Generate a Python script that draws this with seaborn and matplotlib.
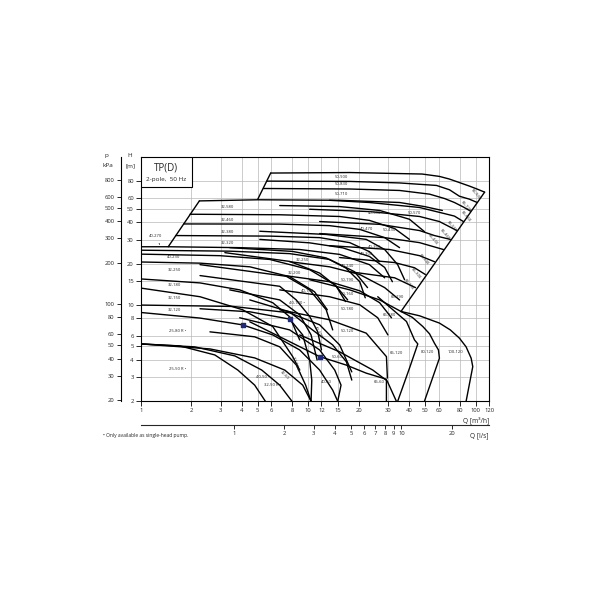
import numpy as np
import pandas as pd
import matplotlib
matplotlib.use("Agg")
import matplotlib.pyplot as plt
from matplotlib.ticker import NullLocator, FixedLocator, FixedFormatter
from matplotlib.patches import Rectangle
import seaborn as sns

# pump curves: Q in m3/h, H in m
q_env_a = [1.46, 2.24]
h_env_a = [26.6, 57.4]
q_env_b = [5.0, 5.97]
h_env_b = [59.1, 91.6]
q_max = [113, 35.8]
h_max = [66.5, 8.98]

q_50_900 = [5.97, 17.7, 47.9, 60.7, 69.7, 79.9, 91.7, 102, 113]
h_50_900 = [91.6, 92.4, 90.1, 86.6, 82.8, 78.1, 73.6, 70.0, 66.5]
q_50_830 = [5.67, 17.7, 35.1, 58.3, 69.7, 79.9, 91.7, 102]
h_50_830 = [80.0, 79.6, 77.6, 74.4, 69.2, 62.1, 59.1, 55.9]
q_50_710 = [5.4, 17.7, 35.1, 53.0, 65.0, 74.6, 84.4, 93.0]
h_50_710 = [70.7, 70.1, 68.4, 64.3, 59.8, 55.9, 51.8, 48.4]
q_32_580 = [2.24, 5.0, 15.4, 35.1, 49.4, 63.2]
h_32_580 = [57.4, 58.5, 58.0, 55.9, 52.2, 48.9]
q_32_460 = [1.97, 6.76, 15.4, 23.2, 32.8, 40.2]
h_32_460 = [45.9, 45.5, 44.2, 41.4, 36.1, 30.1]
q_32_380 = [1.81, 6.76, 13.4, 20.3, 28.6, 35.1]
h_32_380 = [39.0, 38.9, 37.9, 35.6, 31.0, 26.2]
q_32_320 = [1.62, 5.89, 11.7, 17.7, 23.2, 26.7]
h_32_320 = [32.1, 31.8, 31.0, 28.5, 24.5, 20.7]
q_40_580 = [6.76, 15.4, 26.7, 40.2, 49.4]
h_40_580 = [53.1, 52.2, 48.9, 42.2, 34.3]
q_65_550 = [13.4, 23.2, 46.2, 65.0, 74.6, 84.4]
h_65_550 = [58.0, 55.9, 51.4, 46.4, 44.5, 40.6]
q_65_460 = [10.2, 23.2, 46.2, 60.7, 77.2]
h_65_460 = [49.9, 48.0, 44.2, 40.6, 34.9]
q_65_430 = [11.7, 26.7, 46.2, 56.7, 70.5]
h_65_430 = [40.6, 38.75, 34.9, 32.1, 30.1]
q_65_340 = [11.7, 28.6, 46.2, 64.1]
h_65_340 = [33.2, 31.0, 28.5, 25.4]
q_65_300 = [13.4, 30.6, 46.2, 56.7]
h_65_300 = [27.1, 25.4, 22.9, 20.7]
q_65_250 = [15.4, 32.8, 43.1, 50.0]
h_65_250 = [22.2, 20.4, 18.7, 16.7]
q_65_190 = [17.7, 32.8, 43.7]
h_65_190 = [17.5, 15.8, 13.4]
q_65_180 = [10.2, 17.7, 26.7, 35.8]
h_65_180 = [15.3, 12.9, 10.9, 8.98]
q_40_270 = [1.0, 1.46, 3.90, 8.89, 15.4, 23.2, 28.6]
h_40_270 = [26.6, 26.6, 26.2, 25.4, 23.4, 19.7, 15.8]
q_40_250 = [1.0, 3.40, 7.75, 13.4, 18.9, 22.6]
h_40_250 = [25.1, 24.7, 23.7, 21.5, 17.5, 13.4]
q_40_230 = [1.0, 2.97, 5.89, 10.2, 14.4, 17.2]
h_40_230 = [23.5, 22.9, 21.5, 18.1, 14.1, 10.9]
q_32_250 = [1.0, 2.26, 4.48, 7.75, 10.9, 13.0]
h_32_250 = [20.6, 20.2, 19.0, 16.1, 12.5, 9.24]
q_32_180 = [1.0, 2.26, 3.90, 6.14, 7.75, 8.89]
h_32_180 = [15.5, 14.5, 12.9, 10.4, 8.21, 5.57]
q_32_150 = [1.0, 2.26, 4.06, 6.14, 8.08, 8.89]
h_32_150 = [13.3, 11.5, 9.24, 6.98, 4.21, 3.36]
q_32_120 = [1.0, 3.55, 7.75, 11.7, 15.4, 18.2]
h_32_120 = [10.0, 9.77, 8.78, 7.18, 5.12, 3.26]
q_25_80 = [1.0, 2.26, 4.06, 6.14, 8.89, 11.7, 14.0, 15.0]
h_25_80 = [8.83, 8.04, 7.17, 6.06, 4.71, 3.36, 2.40, 1.99]
q_25_50 = [1.0, 1.71, 2.77, 3.80, 4.79, 5.55]
h_25_50 = [5.21, 5.04, 4.33, 3.36, 2.61, 1.99]
q_32_50 = [1.0, 2.10, 3.65, 5.28, 6.76, 8.0]
h_32_50 = [5.21, 4.96, 4.26, 3.36, 2.61, 1.99]
q_40_50 = [1.0, 2.59, 4.79, 7.24, 9.27, 10.4]
h_40_50 = [5.21, 4.79, 4.12, 3.36, 2.61, 1.99]
q_32_60 = [2.59, 4.79, 6.76, 8.5, 9.65, 10.4]
h_32_60 = [6.38, 5.87, 4.96, 3.65, 2.61, 1.99]
q_32_80 = [2.26, 4.48, 7.75, 9.27, 10.2, 10.5, 10.4]
h_32_80 = [9.40, 8.93, 7.90, 6.06, 3.98, 2.84, 1.99]
q_40_60 = [3.90, 7.75, 11.7, 14.4, 15.7, 15.0]
h_40_60 = [8.08, 6.59, 4.71, 3.36, 2.61, 1.99]
q_40_100 = [4.48, 7.75, 10.6, 14.0, 16.9, 18.2]
h_40_100 = [10.9, 8.93, 6.59, 5.12, 3.86, 2.84]
q_50_60 = [4.48, 11.7, 16.9, 22.2, 29.3, 29.3]
h_50_60 = [7.55, 4.21, 3.65, 3.19, 2.88, 1.99]
q_65_60 = [8.89, 15.4, 24.3, 29.6, 33.6]
h_65_60 = [6.06, 4.56, 3.36, 2.80, 1.99]
q_50_120 = [6.76, 13.4, 22.2, 29.3, 29.7]
h_50_120 = [9.24, 7.81, 6.24, 4.21, 2.94]
q_65_120 = [26.0, 38.6, 43.1, 45.1, 40.2, 34.2]
h_65_120 = [11.5, 7.59, 5.57, 5.21, 3.46, 1.99]
q_80_120 = [35.8, 41.8, 48.3, 53.0, 56.7, 59.9, 60.7, 49.4]
h_80_120 = [8.98, 8.14, 6.98, 6.17, 5.27, 4.71, 4.10, 1.99]
q_100_120 = [35.8, 46.2, 60.7, 70.5, 79.9, 87.6, 93.9, 96.0, 87.6]
h_100_120 = [8.98, 8.35, 7.39, 6.59, 5.74, 4.96, 4.10, 3.56, 1.99]
q_50_190 = [7.75, 13.4, 20.3, 28.6, 35.1]
h_50_190 = [20.7, 19.0, 16.7, 13.4, 10.9]
q_50_160 = [7.24, 13.4, 20.3, 26.7, 31.4]
h_50_160 = [16.4, 14.8, 12.7, 10.4, 8.08]
q_50_180 = [6.76, 13.4, 20.3, 26.0, 29.9]
h_50_180 = [12.9, 11.5, 10.05, 8.08, 6.06]
q_40_360 = [5.14, 12.8, 22.2, 28.6, 34.2, 37.6]
h_40_360 = [34.5, 32.7, 30.1, 25.4, 19.7, 15.3]
q_40_300 = [5.14, 10.2, 16.1, 23.2, 28.6, 31.8]
h_40_300 = [30.1, 28.4, 26.1, 22.6, 18.8, 14.8]
q_40_240 = [3.40, 8.06, 12.8, 16.8, 20.3, 21.9]
h_40_240 = [26.2, 24.6, 22.05, 18.6, 14.8, 11.3]
q_32_230 = [3.18, 7.75, 11.7, 14.7, 16.7]
h_32_230 = [24.1, 20.8, 17.1, 13.7, 10.6]
q_32_200 = [2.26, 7.40, 10.2, 12.8, 14.0]
h_32_200 = [19.7, 16.2, 12.9, 9.24, 6.59]
q_40_190 = [2.26, 6.76, 8.48, 10.2, 11.4, 12.0]
h_40_190 = [16.4, 13.7, 10.9, 8.26, 6.38, 4.71]
q_40_180 = [3.40, 6.76, 8.89, 10.4, 11.3]
h_40_180 = [12.9, 10.9, 8.49, 6.06, 3.98]

# duty point markers
q_marks = [4.06, 7.75, 11.7]
h_marks = [7.17, 7.9, 4.21]

# curve labels
label_text = ["50-900", "50-830", "50-710", "32-580", "32-460", "32-380", "32-320",
              "40-230", "32-250", "32-180", "32-150", "32-120", "25-80 R \u2022", "25-50 R \u2022",
              "40-580", "50-570", "40-470", "50-430", "40-360", "40-300", "40-240",
              "32-250", "32-200", "40-190", "40-180 \u2022", "50-190", "50-160", "50-180",
              "50-120", "65-190", "65-180", "65-120", "80-120", "100-120", "50-60",
              "40-60", "65-60", "40-100", "32-80 R \u2022", "32-60", "40-50 \u2022", "32-50 R \u2022",
              "65-930", "65-720", "65-660", "65-550", "65-460", "65-430", "65-340",
              "65-300", "65-250"]
label_q = [15.7, 15.7, 15.7, 3.31, 3.31, 3.31, 3.31,
           1.58, 1.58, 1.58, 1.58, 1.58, 1.67, 1.67,
           24.8, 42.9, 22.2, 30.5, 24.8, 22.2, 17.1,
           9.23, 8.28, 9.90, 8.52, 17.1, 17.1, 17.1,
           17.1, 34.0, 30.5, 33.4, 51.3, 76.0, 14.9,
           12.8, 26.6, 11.4, 8.48, 7.22, 5.35, 6.13,
           100, 87.2, 87.2, 72.3, 65.7, 55.2, 49.2,
           43.9, 40.1]
label_h = [85.5, 76.0, 65.0, 51.4, 41.6, 34.3, 28.3,
           22.4, 17.9, 14.1, 11.25, 9.24, 6.52, 3.42,
           47.2, 47.2, 35.6, 35.2, 26.6, 23.4, 19.4,
           21.4, 17.2, 12.6, 10.3, 15.1, 12.0, 9.32,
           6.42, 11.5, 8.49, 4.50, 4.58, 4.58, 4.21,
           2.77, 2.77, 6.38, 3.65, 3.09, 3.01, 2.61,
           64.3, 52.2, 44.4, 37.5, 32.7, 30.1, 21.5,
           17.1, 14.1]
label_rot = [0] * 37 + [-60, -70, -45, 0, 0] + [-50] * 9

q_ticks = [1, 2, 3, 4, 5, 6, 8, 10, 12, 15, 20, 30, 40, 50, 60, 80, 100, 120]
h_ticks = [2, 3, 4, 5, 6, 8, 10, 15, 20, 30, 40, 50, 60, 80]
p_ticks = [20, 30, 40, 50, 60, 80, 100, 200, 300, 400, 500, 600, 800]
ls_ticks = [1, 2, 3, 4, 5, 6, 7, 8, 9, 10, 20]

curves = [
    ("env_a", q_env_a, h_env_a), ("env_b", q_env_b, h_env_b), ("max", q_max, h_max),
    ("50-900", q_50_900, h_50_900), ("50-830", q_50_830, h_50_830), ("50-710", q_50_710, h_50_710),
    ("32-580", q_32_580, h_32_580), ("32-460", q_32_460, h_32_460), ("32-380", q_32_380, h_32_380),
    ("32-320", q_32_320, h_32_320), ("40-580", q_40_580, h_40_580), ("65-550", q_65_550, h_65_550),
    ("65-460", q_65_460, h_65_460), ("65-430", q_65_430, h_65_430), ("65-340", q_65_340, h_65_340),
    ("65-300", q_65_300, h_65_300), ("65-250", q_65_250, h_65_250), ("65-190", q_65_190, h_65_190),
    ("65-180", q_65_180, h_65_180), ("40-270", q_40_270, h_40_270), ("40-250", q_40_250, h_40_250),
    ("40-230", q_40_230, h_40_230), ("32-250", q_32_250, h_32_250), ("32-180", q_32_180, h_32_180),
    ("32-150", q_32_150, h_32_150), ("32-120", q_32_120, h_32_120), ("25-80", q_25_80, h_25_80),
    ("25-50", q_25_50, h_25_50), ("32-50", q_32_50, h_32_50), ("40-50", q_40_50, h_40_50),
    ("32-60", q_32_60, h_32_60), ("32-80", q_32_80, h_32_80), ("40-60", q_40_60, h_40_60),
    ("40-100", q_40_100, h_40_100), ("50-60", q_50_60, h_50_60), ("65-60", q_65_60, h_65_60),
    ("50-120", q_50_120, h_50_120), ("65-120", q_65_120, h_65_120), ("80-120", q_80_120, h_80_120),
    ("100-120", q_100_120, h_100_120), ("50-190", q_50_190, h_50_190), ("50-160", q_50_160, h_50_160),
    ("50-180", q_50_180, h_50_180), ("40-360", q_40_360, h_40_360), ("40-300", q_40_300, h_40_300),
    ("40-240", q_40_240, h_40_240), ("32-230", q_32_230, h_32_230), ("32-200", q_32_200, h_32_200),
    ("40-190", q_40_190, h_40_190), ("40-180", q_40_180, h_40_180),
]

rows = []
for name, qs, hs in curves:
    for i, (q, h) in enumerate(zip(qs, hs)):
        rows.append({"curve": name, "step": i, "Q": q, "H": h})
df = pd.DataFrame(rows)

sns.set_theme(style="white")
plt.rcParams['font.family'] = ['Open Sans', 'DejaVu Sans']

fig = plt.figure(figsize=(6, 6), dpi=100)
ax = fig.add_axes([0.2345, 0.3317, 0.5805, 0.4067])
ax.set_xscale("log")
ax.set_yscale("log")

sns.lineplot(data=df, x="Q", y="H", units="curve", estimator=None, sort=False,
             color="black", linewidth=1.0, legend=False, ax=ax)
ax.scatter(q_marks, h_marks, s=9, marker="s", color="#1f2a7a", zorder=5)

for t, q, h, r in zip(label_text, label_q, label_h, label_rot):
    ax.text(q, h, t, fontsize=3, ha="center", va="center", rotation=r, color="#222222")
ax.annotate("40-270", xy=(1.32, 26.5), xytext=(1.22, 32.1), fontsize=3,
            ha="center", va="center", arrowprops=dict(arrowstyle="-", lw=0.5, color="black"))

ax.set_xlim(1, 120)
ax.set_ylim(2, 120)
ax.xaxis.set_major_locator(FixedLocator(q_ticks))
ax.xaxis.set_major_formatter(FixedFormatter([str(v) for v in q_ticks]))
ax.xaxis.set_minor_locator(NullLocator())
ax.yaxis.set_major_locator(FixedLocator(h_ticks))
ax.yaxis.set_major_formatter(FixedFormatter([str(v) for v in h_ticks]))
ax.yaxis.set_minor_locator(NullLocator())
ax.grid(True, which="major", color="#b8b8b8", linewidth=0.5)
ax.tick_params(axis="both", direction="out", length=3.5, width=0.7, labelsize=4.2, pad=1.5,
               bottom=True, left=True)
ax.set_xlabel("")
ax.set_ylabel("")
for s in ax.spines.values():
    s.set_color("black")
    s.set_linewidth(0.8)

# pressure axis
ax2 = ax.twinx()
ax2.set_yscale("log")
ax2.set_ylim(2 * 9.81, 120 * 9.81)
ax2.spines["left"].set_position(("outward", 14.4))
ax2.spines["left"].set_visible(True)
ax2.spines["left"].set_color("black")
ax2.spines["left"].set_linewidth(0.8)
for side in ["right", "top", "bottom"]:
    ax2.spines[side].set_visible(False)
ax2.yaxis.set_ticks_position("left")
ax2.yaxis.set_major_locator(FixedLocator(p_ticks))
ax2.yaxis.set_major_formatter(FixedFormatter([str(v) for v in p_ticks]))
ax2.yaxis.set_minor_locator(NullLocator())
ax2.tick_params(axis="y", direction="out", length=3, width=0.7, labelsize=4.2, pad=1.5)

# l/s axis
sec = ax.secondary_xaxis(-0.098, functions=(lambda q: q / 3.6, lambda l: l * 3.6))
sec.xaxis.set_major_locator(FixedLocator(ls_ticks))
sec.xaxis.set_major_formatter(FixedFormatter([str(v) for v in ls_ticks]))
sec.xaxis.set_minor_locator(NullLocator())
sec.tick_params(axis="x", direction="out", length=3, width=0.7, labelsize=4.2, pad=1.5)
sec.spines["bottom"].set_linewidth(0.8)

ax.text(1.0, -0.078, "Q [m\u00b3/h]", transform=ax.transAxes, ha="right", va="center", fontsize=4.8)
ax.text(1.0, -0.142, "Q [l/s]", transform=ax.transAxes, ha="right", va="center", fontsize=4.8)
fig.text(106 / 600, 1 - 155.5 / 600, "p", ha="center", va="center", fontsize=4.6)
fig.text(107.5 / 600, 1 - 165.5 / 600, "kPa", ha="center", va="center", fontsize=4.6)
fig.text(130 / 600, 1 - 155.5 / 600, "H", ha="center", va="center", fontsize=4.6)
fig.text(130.5 / 600, 1 - 165.5 / 600, "[m]", ha="center", va="center", fontsize=4.6)
fig.text(103 / 600, 1 - 435.7 / 600, "\u2022 Only available as single-head pump.", ha="left",
         va="center", fontsize=3.6)

# title box
ax.add_patch(Rectangle((0, 0.878), 0.1464, 0.122, transform=ax.transAxes, facecolor="white",
                       edgecolor="black", linewidth=0.8, zorder=6))
ax.text(0.0727, 0.955, "TP(D)", transform=ax.transAxes, ha="center", va="center", fontsize=7, zorder=7)
ax.text(0.0727, 0.906, "2-pole,  50 Hz", transform=ax.transAxes, ha="center", va="center",
        fontsize=4.6, zorder=7)

fig.savefig("out.png", dpi=100, facecolor="white")
